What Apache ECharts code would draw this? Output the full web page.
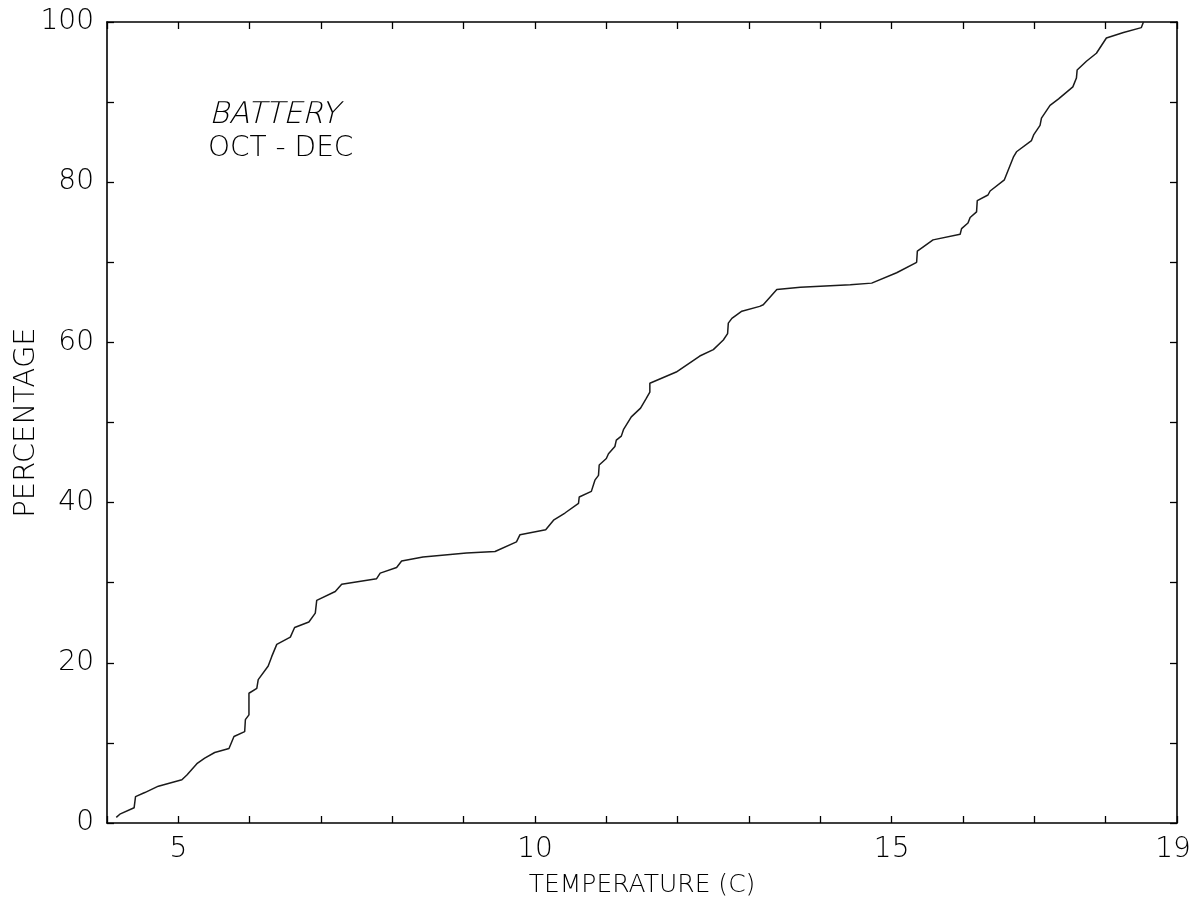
<!DOCTYPE html>
<html>
<head>
<meta charset="utf-8">
<script src="https://cdn.jsdelivr.net/npm/echarts@6/dist/echarts.min.js"></script>
<style>
  html, body { margin: 0; padding: 0; background: #fff; }
  #chart { width: 1190px; height: 911px; }
</style>
</head>
<body>
<div id="chart"></div>
<script>
// Cumulative distribution of water temperature, Battery, Oct-Dec
const temperature = [
  4.13, 4.18, 4.38, 4.40, 4.40, 4.53, 4.72, 5.05, 5.12, 5.26, 5.37, 5.51, 5.71, 5.78, 5.93,
  5.94, 5.99, 5.99, 6.10, 6.12, 6.26, 6.31, 6.38, 6.57, 6.63, 6.83, 6.92, 6.94, 7.20, 7.29,
  7.78, 7.83, 8.06, 8.13, 8.43, 9.04, 9.44, 9.74, 9.79, 10.15, 10.26, 10.42, 10.61, 10.62,
  10.79, 10.84, 10.89, 10.90, 11.00, 11.03, 11.12, 11.14, 11.21, 11.24, 11.35, 11.48, 11.56,
  11.61, 11.61, 11.98, 12.31, 12.50, 12.64, 12.70, 12.71, 12.76, 12.90, 13.15, 13.20, 13.39,
  13.72, 14.42, 14.72, 15.07, 15.35, 15.36, 15.58, 15.96, 15.98, 16.07, 16.10, 16.19, 16.20,
  16.35, 16.38, 16.58, 16.71, 16.75, 16.96, 16.99, 17.08, 17.10, 17.22, 17.34, 17.54, 17.59,
  17.60, 17.73, 17.87, 18.01, 18.25, 18.50, 18.53
];
const percentage = [
  0.7, 1.1, 1.9, 2.0, 3.3, 3.8, 4.6, 5.4, 6.0, 7.4, 8.1, 8.8, 9.3, 10.8, 11.4,
  12.9, 13.5, 16.2, 16.8, 17.9, 19.6, 20.8, 22.3, 23.2, 24.4, 25.1, 26.2, 27.8, 28.9, 29.8,
  30.5, 31.2, 31.9, 32.7, 33.2, 33.7, 33.9, 35.1, 36.0, 36.6, 37.8, 38.7, 39.9, 40.7,
  41.4, 42.8, 43.4, 44.7, 45.5, 46.1, 47.0, 47.8, 48.3, 49.1, 50.7, 51.8, 53.0,
  53.8, 54.9, 56.3, 58.3, 59.1, 60.3, 61.1, 62.4, 63.0, 63.9, 64.5, 64.7, 66.6,
  66.9, 67.2, 67.4, 68.7, 70.0, 71.4, 72.8, 73.5, 74.2, 74.9, 75.6, 76.3, 77.7,
  78.4, 78.9, 80.3, 83.2, 83.8, 85.2, 85.9, 87.1, 88.0, 89.6, 90.4, 91.9, 93.0,
  94.0, 95.1, 96.1, 98.0, 98.7, 99.3, 100.0
];
const xTickLabels = [5, 10, 15, 19];
const yTickLabels = [0, 20, 40, 60, 80, 100];
const stationName = 'BATTERY';
const seasonName = 'OCT - DEC';

const FONT = '"DejaVu Sans", "Liberation Sans", sans-serif';
const LIGHT_ITALIC = 'italic 30px "DejaVu Sans Light", "DejaVu Sans ExtraLight", "DejaVu Sans", sans-serif';
const INK = '#000';

// frame lines stay on the plot edges; ticks point into the plot
const axisLine = { show: true, onZero: false, lineStyle: { color: INK, width: 1.6 } };
const axisTick = { show: true, inside: true, length: 7, lineStyle: { color: INK, width: 1.3 } };
const lastX = xTickLabels[xTickLabels.length - 1];

const chart = echarts.init(document.getElementById('chart'), null, { renderer: 'canvas' });
chart.setOption({
  backgroundColor: '#fff',
  animation: false,
  grid: {
    left: 107, right: 13, top: 22, bottom: 88,
    containLabel: false, outerBoundsMode: 'none'
  },
  xAxis: [
    {
      type: 'value', min: 4, max: 19, interval: 1, position: 'bottom',
      axisLine, axisTick, splitLine: { show: false },
      axisLabel: {
        color: INK, fontFamily: FONT, fontSize: 28, fontWeight: 200, margin: 13,
        showMinLabel: true, showMaxLabel: true, hideOverlap: false,
        formatter: v => {
          if (!xTickLabels.includes(v)) return '';
          // the end label sits a little inside the frame
          return v === lastX ? '{edge|' + v + '}' : String(v);
        },
        rich: {
          edge: { fontFamily: FONT, fontSize: 28, fontWeight: 200, color: INK, padding: [0, 8, 0, 0] }
        }
      },
      name: 'TEMPERATURE (C)', nameLocation: 'middle', nameGap: 50, nameMoveOverlap: false,
      nameTextStyle: { color: INK, fontFamily: FONT, fontSize: 25, fontWeight: 200 }
    },
    {
      type: 'value', min: 4, max: 19, interval: 1, position: 'top',
      axisLine, axisTick, axisLabel: { show: false }, splitLine: { show: false }
    }
  ],
  yAxis: [
    {
      type: 'value', min: 0, max: 100, interval: 10, position: 'left',
      axisLine, axisTick, splitLine: { show: false },
      axisLabel: {
        color: INK, fontFamily: FONT, fontSize: 28, fontWeight: 200, margin: 13,
        formatter: v => yTickLabels.includes(v) ? String(v) : ''
      },
      name: 'PERCENTAGE', nameLocation: 'middle', nameGap: 66, nameRotate: 90, nameMoveOverlap: false,
      nameTextStyle: { color: INK, fontFamily: FONT, fontSize: 29, fontWeight: 200 }
    },
    {
      type: 'value', min: 0, max: 100, interval: 10, position: 'right',
      axisLine, axisTick, axisLabel: { show: false }, splitLine: { show: false }
    }
  ],
  graphic: [
    {
      type: 'text', left: 209, top: 100,
      style: { text: stationName, font: LIGHT_ITALIC, fill: INK }
    },
    {
      type: 'text', left: 208, top: 135,
      style: { text: seasonName, font: '200 28px ' + FONT, fill: INK }
    }
  ],
  series: [
    {
      type: 'line',
      data: temperature.map((t, i) => [t, percentage[i]]),
      showSymbol: false,
      smooth: false,
      lineStyle: { color: '#1a1a1a', width: 1.5 }
    }
  ]
});
</script>
</body>
</html>
